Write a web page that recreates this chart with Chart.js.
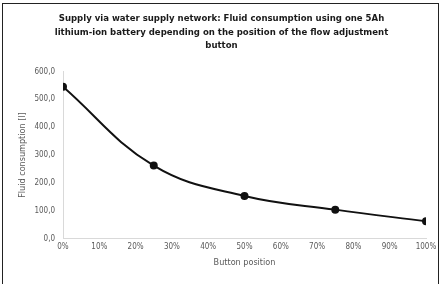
<!DOCTYPE html>
<html>
<head>
<meta charset="utf-8">
<script src="https://cdn.jsdelivr.net/npm/chart.js@4/dist/chart.umd.min.js"></script>
<style>
  body { margin: 0; background: #fff; }
  #wrap { position: relative; width: 444px; height: 284px; }
  #frame { position: absolute; left: 2px; top: 3px; width: 437px; height: 282px; border: 1px solid #222; box-sizing: border-box; pointer-events: none; }
</style>
</head>
<body>
<div id="wrap">
  <canvas id="canvas-1" width="444" height="284"></canvas>
  <div id="frame"></div>
</div>
<script>
// button position (%) and litres used per battery
var positions = [0, 25, 50, 75, 100];
var litres = [545, 262, 153, 104, 62];
var yTicks = [0, 100, 200, 300, 400, 500, 600];
var xTicks = [0, 10, 20, 30, 40, 50, 60, 70, 80, 90, 100];

var narrow = '"Liberation Sans Narrow", "DejaVu Sans Condensed", Roboto, sans-serif';

var points = positions.map(function (p, i) {
  return { x: p, y: litres[i] };
});

var lineChart = new Chart(document.getElementById('canvas-1'), {
  type: 'line',
  data: {
    datasets: [{
      data: points,
      borderColor: '#111',
      backgroundColor: '#111',
      borderWidth: 2,
      pointRadius: 3,
      tension: 0.4,
      fill: false
    }]
  },
  options: {
    responsive: false,
    animation: false,
    layout: { padding: { left: 17, right: 18, top: 4, bottom: 16 } },
    plugins: {
      legend: { display: false },
      tooltip: { enabled: false },
      title: {
        display: true,
        text: ['Supply via water supply network: Fluid consumption using one 5Ah',
          'lithium-ion battery depending on the position of the flow adjustment',
          'button'],
        color: '#1a1a1a',
        font: { family: narrow, size: 9.5, weight: 'bold', lineHeight: 1.42 },
        padding: { top: 8, bottom: 19 }
      }
    },
    scales: {
      x: {
        type: 'linear',
        min: 0,
        max: 100,
        afterBuildTicks: function (axis) {
          axis.ticks = xTicks.map(function (v) { return { value: v }; });
        },
        ticks: {
          color: '#595959',
          font: { family: narrow, size: 8 },
          padding: 4,
          maxRotation: 0,
          callback: function (v) { return v + '%'; }
        },
        grid: { drawOnChartArea: false, drawTicks: false },
        border: { color: '#d9d9d9', width: 1 },
        title: {
          display: true,
          text: 'Button position',
          color: '#595959',
          font: { family: narrow, size: 9 },
          padding: { top: 1, bottom: 0 }
        }
      },
      y: {
        min: 0,
        max: 600,
        afterBuildTicks: function (axis) {
          axis.ticks = yTicks.map(function (v) { return { value: v }; });
        },
        afterFit: function (axis) { axis.width = 46; },
        ticks: {
          color: '#595959',
          font: { family: narrow, size: 8 },
          padding: 8,
          callback: function (v) { return v.toFixed(1).replace('.', ','); }
        },
        grid: { drawOnChartArea: false, drawTicks: false },
        border: { color: '#d9d9d9', width: 1 },
        title: {
          display: true,
          text: 'Fluid consumption [l]',
          color: '#595959',
          font: { family: narrow, size: 9 },
          padding: 0
        }
      }
    }
  }
});
</script>
</body>
</html>
